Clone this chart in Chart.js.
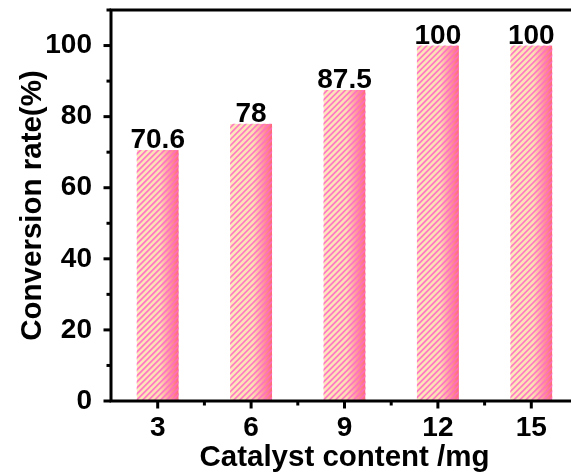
<!DOCTYPE html>
<html><head><meta charset="utf-8">
<script src="https://cdn.jsdelivr.net/npm/chart.js@4"></script>
<style>
html,body{margin:0;padding:0;overflow:hidden;background:#fff;width:571px;height:473px}
#wrap{width:578px;height:473px;position:relative}
</style></head>
<body><div id="wrap"><canvas id="c"></canvas></div>
<script>
const categories = ['3', '6', '9', '12', '15'];
const conversionRate = [70.6, 78, 87.5, 100, 100];
const valueLabels = ['70.6', '78', '87.5', '100', '100'];
const yMajorTicks = [0, 20, 40, 60, 80, 100];
const xTitle = 'Catalyst content /mg';
const yTitle = 'Conversion rate(%)';

const FONT = 'Arial, "Liberation Sans", sans-serif';

const barFillPlugin = {
  id: 'barFill',
  afterDatasetsDraw(chart) {
    const ctx = chart.ctx;
    const meta = chart.getDatasetMeta(0);
    meta.data.forEach((el, i) => {
      const w = el.width;
      const x0 = el.x - w / 2, x1 = el.x + w / 2;
      const yTop = el.y, yBot = el.base;
      ctx.save();
      ctx.beginPath();
      ctx.rect(x0, yTop, w, yBot - yTop);
      ctx.clip();
      const g = ctx.createLinearGradient(x0, 0, x1, 0);
      g.addColorStop(0, '#fde8bc');
      g.addColorStop(0.55, '#fcdfb4');
      g.addColorStop(0.78, '#ff9aa0');
      g.addColorStop(1, '#ff6878');
      ctx.fillStyle = g;
      ctx.fillRect(x0, yTop, w, yBot - yTop);
      ctx.strokeStyle = 'rgba(255,110,195,0.9)';
      ctx.lineWidth = 1.7;
      const h = yBot - yTop;
      for (let s = x0 - h - 10; s < x1 + 10; s += 6) {
        ctx.beginPath();
        ctx.moveTo(s, yBot + 2);
        ctx.lineTo(s + h + 4, yTop - 2);
        ctx.stroke();
      }
      ctx.restore();
      ctx.save();
      ctx.fillStyle = '#000';
      ctx.font = 'bold 28px ' + FONT;
      ctx.textAlign = 'center';
      ctx.textBaseline = 'alphabetic';
      ctx.fillText(valueLabels[i], el.x, yTop - 2);
      ctx.restore();
    });
  }
};

const axesPlugin = {
  id: 'axesFrame',
  afterDraw(chart) {
    const ctx = chart.ctx;
    const a = chart.chartArea;
    const xs = chart.scales.x, ys = chart.scales.y;
    ctx.save();
    ctx.strokeStyle = '#000';
    ctx.lineWidth = 3;
    ctx.lineCap = 'butt';
    ctx.beginPath();
    ctx.moveTo(a.left, a.top); ctx.lineTo(a.left, a.bottom + 1.5);
    ctx.moveTo(a.left - 1.5, a.bottom); ctx.lineTo(a.right + 2, a.bottom);
    ctx.moveTo(a.left - 1.5, a.top); ctx.lineTo(a.right + 2, a.top);
    ctx.moveTo(a.right, a.top); ctx.lineTo(a.right, a.bottom);
    ctx.stroke();
    ys.ticks.forEach(t => {
      const y = ys.getPixelForValue(t.value);
      const major = yMajorTicks.includes(t.value);
      const len = major ? 6 : 3;
      ctx.beginPath();
      ctx.moveTo(a.left - 1.5 - len, y); ctx.lineTo(a.left, y);
      ctx.stroke();
    });
    for (let i = 0; i < categories.length; i++) {
      const x = xs.getPixelForValue(i);
      ctx.beginPath(); ctx.moveTo(x, a.bottom); ctx.lineTo(x, a.bottom + 7.5); ctx.stroke();
      if (i < categories.length - 1) {
        const xm = (x + xs.getPixelForValue(i + 1)) / 2;
        ctx.beginPath(); ctx.moveTo(xm, a.bottom); ctx.lineTo(xm, a.bottom + 4.5); ctx.stroke();
      }
    }
    ctx.restore();
  }
};

new Chart(document.getElementById('c'), {
  type: 'bar',
  data: {
    labels: categories,
    datasets: [{
      data: conversionRate,
      backgroundColor: 'rgba(0,0,0,0)',
      borderWidth: 0,
      barPercentage: 0.45,
      categoryPercentage: 1
    }]
  },
  options: {
    responsive: true,
    maintainAspectRatio: false,
    animation: false,
    devicePixelRatio: 1,
    layout: { padding: { top: 10, right: 0, left: 0, bottom: 0 } },
    plugins: { legend: { display: false }, tooltip: { enabled: false } },
    scales: {
      x: {
        type: 'category',
        offset: true,
        grid: { display: false },
        border: { display: false },
        ticks: { color: '#000', padding: 5, maxRotation: 0, autoSkip: false,
                 font: { family: FONT, size: 28, weight: 'bold', lineHeight: 1 } },
        title: { display: true, text: xTitle, color: '#000', padding: 0,
                 font: { family: FONT, size: 29.5, weight: 'bold', lineHeight: 1 } },
        afterFit(s) { s.height = 72; s.paddingLeft = 0; s.paddingRight = 0; }
      },
      y: {
        min: 0, max: 110,
        grid: { display: false },
        border: { display: false },
        ticks: { stepSize: 10, autoSkip: false, color: '#000', padding: 11,
                 callback: v => yMajorTicks.includes(v) ? String(v) : '',
                 font: { family: FONT, size: 28, weight: 'bold', lineHeight: 1 } },
        title: { display: true, text: yTitle, color: '#000', padding: { top: 18, bottom: 0 },
                 font: { family: FONT, size: 29.5, weight: 'bold', lineHeight: 1 } },
        afterFit(s) { s.width = 111; s.paddingTop = 0; s.paddingBottom = 0; }
      }
    }
  },
  plugins: [barFillPlugin, axesPlugin]
});
</script>
</body></html>
